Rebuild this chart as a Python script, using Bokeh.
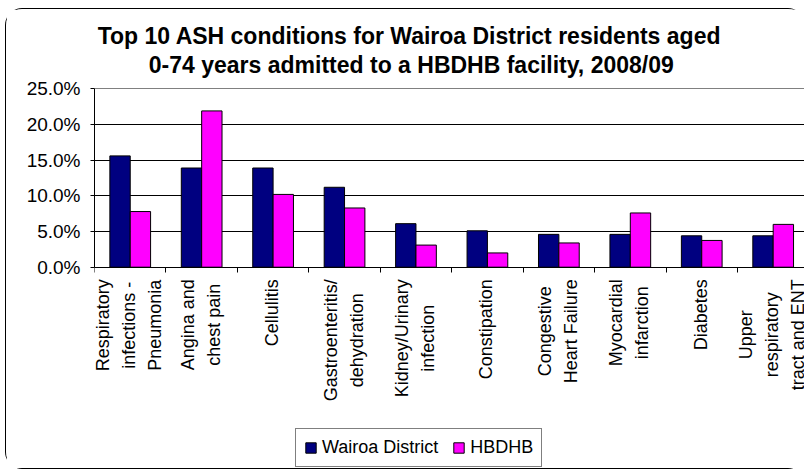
import math
from bokeh.plotting import figure
from bokeh.models import (Range1d, FixedTicker, PrintfTickFormatter, Label, Legend,
                          LegendItem, Grid, ColumnDataSource)
from bokeh.core.properties import value
from bokeh.embed import file_html
from bokeh.resources import INLINE

# ---- data ----
categories = ["Respiratory\ninfections -\nPneumonia", "Angina and\nchest pain", "Cellulitis",
              "Gastroenteritis/\ndehydration", "Kidney/Urinary\ninfection", "Constipation",
              "Congestive\nHeart Failure", "Myocardial\ninfarction", "Diabetes",
              "Upper\nrespiratory\ntract and ENT"]
wairoa = [15.6, 13.9, 13.9, 11.2, 6.1, 5.1, 4.6, 4.6, 4.4, 4.4]
hbdhb = [7.8, 21.9, 10.2, 8.3, 3.1, 2.0, 3.4, 7.6, 3.75, 6.0]
y_ticks = [0, 5, 10, 15, 20, 25]
series_names = ["Wairoa District", "HBDHB"]
title_lines = ["Top 10 ASH conditions for Wairoa District residents aged",
               "0-74 years  admitted to a HBDHB facility, 2008/09"]

FONT = "Liberation Sans"
NAVY = "#000080"
MAGENTA = "#FF00FF"
BAR_W = 0.285

# ---- layout constants (pixels) ----
W, H = 798, 459
LEFT = 88
CAT_PX = 71.44           # pixels per category
PX_PER_PCT = 7.136       # pixels per percentage point
ZERO_FROM_TOP = 257.7    # y=0 position from canvas top

x_end = (W - LEFT) / CAT_PX
y_end = ZERO_FROM_TOP / PX_PER_PCT
y_start = -(H - ZERO_FROM_TOP) / PX_PER_PCT

n = len(categories)
centers = [i + 0.5 for i in range(n)]
src = ColumnDataSource(data=dict(
    x1=[c - BAR_W / 2 for c in centers],
    x2=[c + BAR_W / 2 for c in centers],
    w=wairoa, h=hbdhb))
lab_src = ColumnDataSource(data=dict(x=centers, y=[y_ticks[0]] * n, text=categories))

p = figure(width=W, height=H, x_range=Range1d(0, x_end), y_range=Range1d(y_start, y_end),
           output_backend="svg", toolbar_location=None, title=None,
           min_border_left=LEFT, min_border_right=0, min_border_top=0, min_border_bottom=0,
           background_fill_color="white", border_fill_color="white")
p.outline_line_color = None

r1 = p.vbar(x="x1", top="w", bottom=0, width=BAR_W, source=src, fill_color=NAVY,
            line_color="black", line_width=1)
r2 = p.vbar(x="x2", top="h", bottom=0, width=BAR_W, source=src, fill_color=MAGENTA,
            line_color="black", line_width=1)

# grid
p.xgrid.visible = False
p.ygrid.ticker = FixedTicker(ticks=y_ticks[:-1])
p.ygrid.grid_line_color = "black"
p.ygrid.grid_line_width = 1
p.add_layout(Grid(dimension=1, ticker=FixedTicker(ticks=y_ticks[-1:]), grid_line_color="#808080"))

# y axis
ya = p.yaxis[0]
ya.ticker = FixedTicker(ticks=y_ticks)
ya.bounds = (y_ticks[0], y_ticks[-1])
ya.formatter = PrintfTickFormatter(format="%.1f%%")
ya.major_label_text_font = FONT
ya.major_label_text_font_size = "19px"
ya.major_label_text_color = "black"
ya.major_tick_out = 4
ya.major_tick_in = 0
ya.minor_tick_out = 0
ya.minor_tick_in = 0
ya.major_label_standoff = 10
ya.axis_line_color = "black"
ya.major_tick_line_color = "black"

# x axis (sits at y = 0); category labels drawn as centred multi-line text below it
xa = p.xaxis[0]
xa.fixed_location = 0
xa.ticker = FixedTicker(ticks=[], minor_ticks=list(range(n)))
xa.major_label_text_font_size = "0px"
xa.major_tick_out = 0
xa.major_tick_in = 0
xa.minor_tick_out = 5
xa.minor_tick_in = 0
xa.minor_tick_line_color = "black"
xa.axis_line_color = "black"

p.text(x="x", y="y", text="text", source=lab_src, angle=math.pi / 2,
       anchor="center_right", text_align="center", text_baseline="middle",
       x_offset=-1, y_offset=12, text_font=value(FONT), text_font_size="18px",
       text_color="black", text_line_height=1.3)

# title (two centred lines)
for txt, cx, base in [(title_lines[0], 315, 433), (title_lines[1], 320, 404)]:
    p.add_layout(Label(x=cx, y=base, x_units="screen", y_units="screen", text=txt,
                       text_align="center", text_baseline="alphabetic",
                       text_font=FONT, text_font_size="23px", text_font_style="bold",
                       text_color="black"))

legend = Legend(items=[LegendItem(label=series_names[0], renderers=[r1]),
                       LegendItem(label=series_names[1], renderers=[r2])],
                orientation="horizontal", location=(201, 1),
                glyph_width=13, glyph_height=13, label_standoff=5, spacing=14,
                padding=8, margin=0,
                label_text_font=FONT, label_text_font_size="18px", label_text_color="black",
                border_line_color="black", border_line_width=1,
                background_fill_color="white", background_fill_alpha=1.0)
p.add_layout(legend, "center")

p.styles = {"position": "absolute", "left": "6px", "top": "9px",
            "outline": "1px solid black", "outline-offset": "0px", "border-radius": "16px",
            "clip-path": "inset(-3px 0px -3px -3px)"}

open("out.html", "w").write(file_html(p, INLINE))
